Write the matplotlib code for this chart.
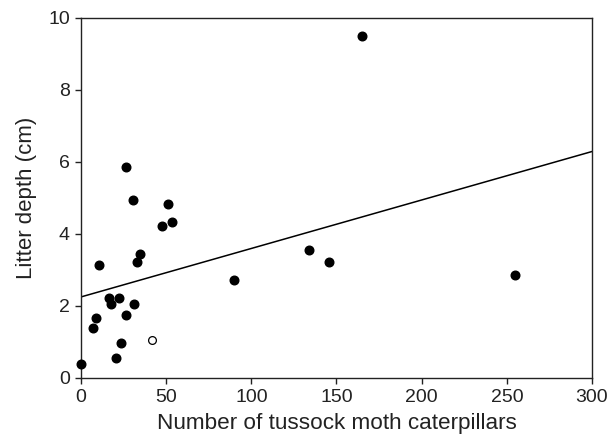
import matplotlib
matplotlib.use("Agg")
import matplotlib.pyplot as plt

plt.rcParams['font.family'] = ['Liberation Sans', 'DejaVu Sans']

# filled points: caterpillar count vs litter depth
caterpillars = [0, 6.8, 8.6, 10.5, 16.2, 17.6, 22.5, 20.5, 23.4, 26.6, 26.2,
                30.3, 31.4, 32.8, 34.4, 47.3, 51.2, 53.5, 89.6, 133.6, 145.5,
                165.2, 254.8]
litter = [0.38, 1.39, 1.66, 3.14, 2.23, 2.06, 2.23, 0.56, 0.96, 1.75, 5.85,
          4.93, 2.06, 3.21, 3.44, 4.23, 4.83, 4.33, 2.71, 3.54, 3.21,
          9.5, 2.87]

# open point
open_x = [41.4]
open_y = [1.06]

# fitted line
fit_x = [0, 300]
fit_y = [2.25, 6.29]

fig = plt.figure(figsize=(6.16, 4.42), dpi=100)
ax = fig.add_axes([0.1315, 0.145, 0.8295, 0.8143])

ax.plot(fit_x, fit_y, color='black', lw=1.1, zorder=2)
ax.plot(caterpillars, litter, 'o', color='black', ms=6.2, zorder=3, clip_on=False)
ax.plot(open_x, open_y, 'o', mfc='white', mec='black', mew=0.9, ms=5.6, zorder=3)

ax.set_xlim(0, 300)
ax.set_ylim(0, 10)
ax.set_xticks(range(0, 301, 50))
ax.set_yticks(range(0, 11, 2))
ax.tick_params(direction='out', length=4, width=1, labelsize=14, pad=4,
               top=False, right=False, colors='#222222')
for s in ax.spines.values():
    s.set_linewidth(1)
    s.set_color('#222222')

ax.set_xlabel('Number of tussock moth caterpillars', fontsize=16.2, labelpad=5,
              color='#222222')
ax.set_ylabel('Litter depth (cm)', fontsize=16, labelpad=8, color='#222222')

plt.savefig('out.png', dpi=100)
